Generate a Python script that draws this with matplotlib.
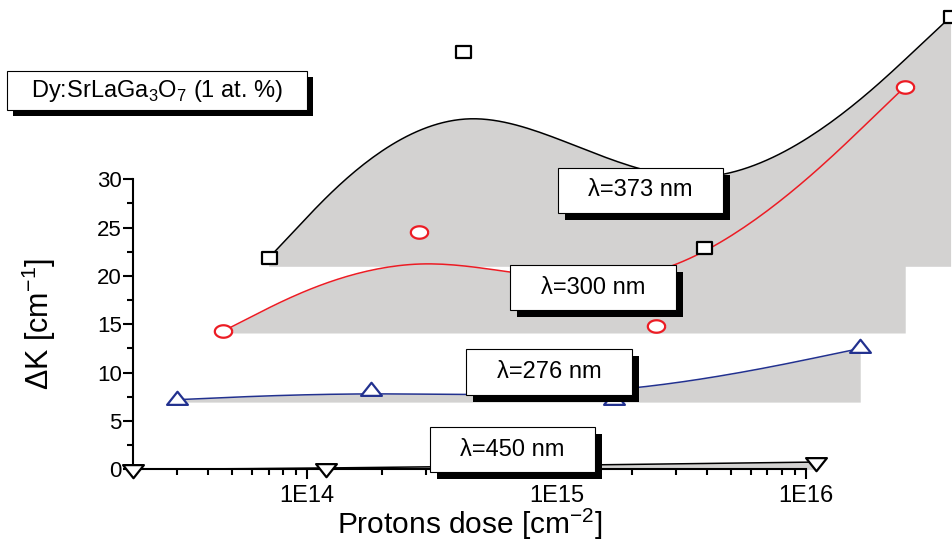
import numpy as np
import matplotlib
matplotlib.use("Agg")
import matplotlib.pyplot as plt
from matplotlib.patches import Rectangle
from matplotlib.path import Path
from matplotlib.ticker import FixedLocator, NullFormatter

plt.rcParams["font.family"] = ["Liberation Sans", "DejaVu Sans"]

# proton dose [cm^-2] and induced absorption change [cm^-1]
dose_373 = [7.0e13, 4.2e14, 3.9e15, 3.8e16]
dk_373 = [21.85, 43.2, 22.9, 46.8]
dose_300 = [4.6e13, 2.8e14, 2.5e15, 2.5e16]
dk_300 = [14.3, 24.6, 14.8, 39.6]
dose_276 = [3.0e13, 1.8e14, 1.7e15, 1.65e16]
dk_276 = [7.2, 8.1, 7.2, 12.5]
dose_450 = [2.0e13, 1.19e14, 1.1e16]
dk_450 = [0.0, 0.1, 0.75]

# lower edge of the shaded area under each curve
floor_373 = 21.0
floor_300 = 14.1
floor_276 = 6.95
floor_450 = 0.0

labels = ["\u03bb=373 nm", "\u03bb=300 nm", "\u03bb=276 nm", "\u03bb=450 nm"]

W, H = 952, 546
GRAY = "#d3d2d1"
RED = "#ec1c24"
BLUE = "#22318f"


def bspline(x, y, n=40):
    """Uniform cubic B-spline on (log10 x, y) with clamped ends."""
    lx = np.log10(x)
    px = np.r_[lx[0], lx[0], lx, lx[-1], lx[-1]]
    py = np.r_[y[0], y[0], y, y[-1], y[-1]]
    t = np.linspace(0, 1, n)
    b = np.array([
        (1 - t) ** 3,
        3 * t ** 3 - 6 * t ** 2 + 4,
        -3 * t ** 3 + 3 * t ** 2 + 3 * t + 1,
        t ** 3,
    ]) / 6.0
    xs, ys = [], []
    for i in range(len(px) - 3):
        xs.append(b.T @ px[i:i + 4])
        ys.append(b.T @ py[i:i + 4])
    return 10 ** np.concatenate(xs), np.concatenate(ys)


def closed(verts):
    return Path(np.asarray(verts, float), closed=True)


# markers are a little wider than tall
ell = np.linspace(0, 2 * np.pi, 40)
m_circle = Path(np.c_[np.cos(ell), 0.72 * np.sin(ell)])
m_square = closed([(-1, -0.8), (1, -0.8), (1, 0.8), (-1, 0.8), (-1, -0.8)])
m_up = closed([(0, 0.84), (-1, -0.42), (1, -0.42), (0, 0.84)])
m_down = closed([(0, -0.84), (-1, 0.42), (1, 0.42), (0, -0.84)])

fig = plt.figure(figsize=(W / 100, H / 100), dpi=100)
ax = fig.add_axes([133 / W, 1 - 469.3 / H, (806 - 133) / W, 290 / H])

series = [
    (dose_373, dk_373, floor_373, "black", m_square, 10.8),
    (dose_300, dk_300, floor_300, RED, m_circle, 12.5),
    (dose_276, dk_276, floor_276, BLUE, m_up, 15),
    (dose_450, dk_450, floor_450, "black", m_down, 15),
]

for x, y, floor, color, marker, ms in series:
    sx, sy = bspline(x, y)
    ax.fill_between(sx, sy, floor, color=GRAY, lw=0, clip_on=False, zorder=1)
for x, y, floor, color, marker, ms in series:
    sx, sy = bspline(x, y)
    ax.plot(sx, sy, color=color, lw=1.1, clip_on=False, zorder=3)
    ax.plot(x, y, ls="none", marker=marker, ms=ms, mfc="white", mec=color,
            mew=1.6, clip_on=False, zorder=4)

ax.set_xscale("log")
ax.set_xlim(2e13, 1e16)
ax.set_ylim(0, 30)

ax.spines["top"].set_visible(False)
ax.spines["right"].set_visible(False)
for s in ("left", "bottom"):
    ax.spines[s].set_linewidth(1.5)
    ax.spines[s].set_zorder(2)

ax.xaxis.set_major_locator(FixedLocator([1e14, 1e15, 1e16]))
ax.set_xticklabels(["1E14", "1E15", "1E16"])
ax.xaxis.set_minor_locator(FixedLocator(
    [m * 10 ** e for e in (13, 14, 15) for m in range(2, 10)]))
ax.xaxis.set_minor_formatter(NullFormatter())
ax.set_yticks(np.arange(0, 31, 5))
ax.yaxis.set_minor_locator(FixedLocator(np.arange(2.5, 30, 5)))
ax.tick_params(which="major", length=7, width=1.5, labelsize=16, pad=1)
ax.tick_params(which="minor", length=4, width=1.5)
ax.tick_params(axis="x", which="major", pad=4)
for lab in ax.get_xticklabels():
    lab.set_family(["Liberation Sans Narrow", "Liberation Sans"])
    lab.set_fontsize(17)

ax.set_xlabel("Protons dose [cm$^{\\mathregular{-2}}$]", fontsize=21.5, labelpad=0)
ax.set_ylabel("\u0394K [cm$^{\\mathregular{-1}}$]", fontsize=22, labelpad=28)


def label_box(x0, y0, x1, y1, text, fs=17, shadow=7):
    fig.add_artist(Rectangle(((x0 + shadow) / W, 1 - (y1 + shadow) / H),
                             (x1 - x0) / W, (y1 - y0) / H, transform=fig.transFigure,
                             facecolor="black", edgecolor="none", zorder=10))
    fig.add_artist(Rectangle((x0 / W, 1 - y1 / H), (x1 - x0) / W, (y1 - y0) / H,
                             transform=fig.transFigure, facecolor="white",
                             edgecolor="black", lw=0.8, zorder=11))
    fig.text((x0 + x1) / 2 / W, 1 - (y0 + y1) / 2 / H, text, fontsize=fs,
             ha="center", va="center", zorder=12)


label_box(558, 168, 723, 213, labels[0])
label_box(510, 265, 676, 310, labels[1])
label_box(466, 349, 632, 395, labels[2])
label_box(430, 427, 595, 472, labels[3])
label_box(7, 71, 307, 110,
          "Dy:SrLaGa$_{\\mathregular{3}}$O$_{\\mathregular{7}}$ (1 at. %)", fs=17, shadow=6)

fig.savefig("out.png", dpi=100)
